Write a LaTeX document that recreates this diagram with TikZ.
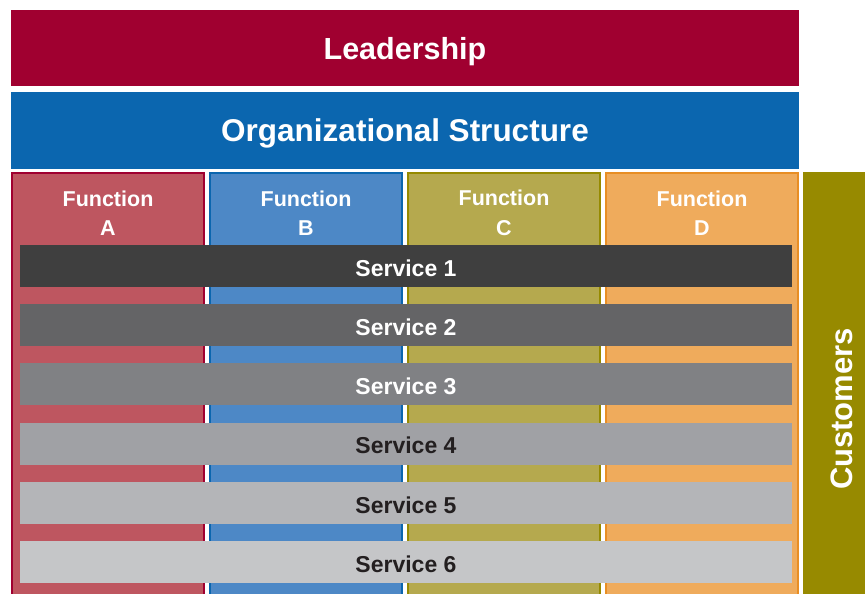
\documentclass[tikz,border=0pt]{standalone}
\usepackage{fontspec}
\setmainfont{Liberation Sans}
\definecolor{leadC}{HTML}{A00030}
\definecolor{orgC}{HTML}{0B66AF}
\definecolor{aFill}{HTML}{BE5660}
\definecolor{aLine}{HTML}{A00030}
\definecolor{bFill}{HTML}{4D88C6}
\definecolor{bLine}{HTML}{0B66AF}
\definecolor{cFill}{HTML}{B5A94E}
\definecolor{cLine}{HTML}{968A00}
\definecolor{dFill}{HTML}{EFAB5C}
\definecolor{dLine}{HTML}{E88E24}
\definecolor{custC}{HTML}{978A00}
\definecolor{sOne}{HTML}{3F3F3F}
\definecolor{sTwo}{HTML}{646466}
\definecolor{sThree}{HTML}{808184}
\definecolor{sFour}{HTML}{A0A1A5}
\definecolor{sFive}{HTML}{B4B5B8}
\definecolor{sSix}{HTML}{C5C6C8}
\definecolor{darkText}{HTML}{231F20}
\begin{document}
\begin{tikzpicture}[x=1pt,y=-1pt,
  band/.style={text depth=0pt, text height=21.8pt, inner sep=0pt, outer sep=0pt, text=white, minimum width=788pt, minimum height=76pt, font=\bfseries\fontsize{30.5}{30.5}\selectfont},
  column/.style={inner sep=0pt, outer sep=0pt, line width=2pt, minimum width=192pt, minimum height=428pt},
  funclabel/.style={inner sep=0pt, text=white, align=center, font=\bfseries\fontsize{21.5}{29.4}\selectfont},
  service/.style={text depth=0pt, text height=20.5pt, inner sep=0pt, outer sep=0pt, minimum width=772pt, minimum height=42pt, font=\bfseries\fontsize{23}{23}\selectfont},
  ]
\useasboundingbox (0,0) rectangle (865,594);
\fill[white] (0,0) rectangle (865,594);
\clip (0,0) rectangle (865,594);
\node[band, fill=leadC] (lead) at (405,48.3) {Leadership};
\node[band, fill=orgC, minimum height=77pt, text height=22.5pt, font=\bfseries\fontsize{31.5}{31.5}\selectfont] (org) at (405,130.5) {Organizational Structure};
% function columns
\node[column, fill=aFill, draw=aLine] (colA) at (108,387) {};
\node[column, fill=bFill, draw=bLine] (colB) at (306,387) {};
\node[column, fill=cFill, draw=cLine] (colC) at (504,387) {};
\node[column, fill=dFill, draw=dLine] (colD) at (702,387) {};
\node[funclabel] (labA) at (108,213) {Function\\A};
\node[funclabel] (labB) at (306,213) {Function\\B};
\node[funclabel] (labC) at (504,213) {Function\\C};
\node[funclabel] (labD) at (702,213) {Function\\D};
% customers
\node[inner sep=0pt, outer sep=0pt, fill=custC, minimum width=62pt, minimum height=428pt] (cust) at (834,386) {};
\node[text depth=0pt, text height=22.2pt, inner sep=0pt, text=white, rotate=90, font=\bfseries\fontsize{31}{31}\selectfont] (custLab) at (841.5,409) {Customers};
% services
\node[service, fill=sOne, text=white] (s1) at (406,266) {Service 1};
\node[service, fill=sTwo, text=white] (s2) at (406,325.2) {Service 2};
\node[service, fill=sThree, text=white] (s3) at (406,384.4) {Service 3};
\node[service, fill=sFour, text=darkText] (s4) at (406,443.6) {Service 4};
\node[service, fill=sFive, text=darkText] (s5) at (406,502.8) {Service 5};
\node[service, fill=sSix, text=darkText] (s6) at (406,562) {Service 6};
\end{tikzpicture}
\end{document}
